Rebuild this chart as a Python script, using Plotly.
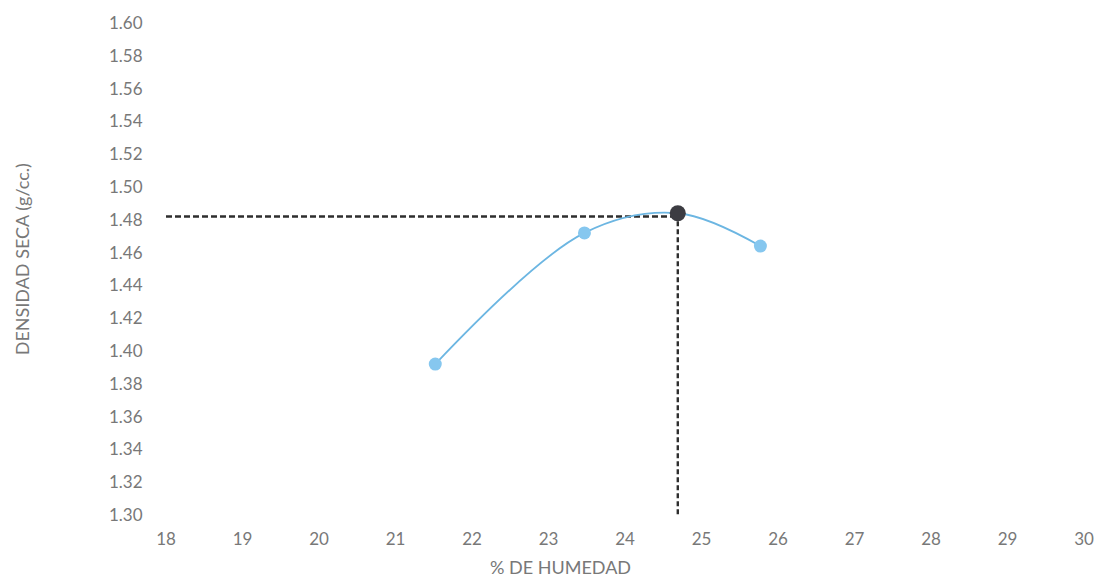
import plotly.graph_objects as go

# Compaction test results
humedad = [21.52, 23.47, 25.77]         # % de humedad
densidad = [1.392, 1.472, 1.464]        # densidad seca (g/cc.)

# Optimum point (maximum dry density / optimum moisture content)
hum_optima = 24.69
dens_maxima = 1.484
dens_ref = 1.482

x_ticks = list(range(18, 31))
y_ticks = [round(1.30 + 0.02 * i, 2) for i in range(16)]

font_family = "Lato, 'Open Sans', sans-serif"
text_color = "#787878"

# plot area in pixels (used for title placement)
W, H = 1106, 577
L, R, T, B = 166, 14, 21, 62
pw, ph = W - L - R, H - T - B

fig = go.Figure()

# Guide lines to the optimum
fig.add_trace(go.Scatter(
    x=[x_ticks[0], hum_optima], y=[dens_ref, dens_ref],
    mode="lines", line=dict(color="#2e2e2e", width=2.4, dash="6px,3px"),
    hoverinfo="skip", showlegend=False,
))
fig.add_trace(go.Scatter(
    x=[hum_optima, hum_optima], y=[dens_maxima, y_ticks[0]],
    mode="lines", line=dict(color="#2e2e2e", width=2.4, dash="5px,3px"),
    hoverinfo="skip", showlegend=False,
))

# Smoothed compaction curve (passes through the optimum)
curve = sorted(zip(humedad + [hum_optima], densidad + [dens_maxima]))
fig.add_trace(go.Scatter(
    x=[p[0] for p in curve], y=[p[1] for p in curve], mode="lines",
    line=dict(color="#6cb6e2", width=1.8, shape="spline", smoothing=1.0),
    hoverinfo="skip", showlegend=False,
))

# Measured points
fig.add_trace(go.Scatter(
    x=humedad, y=densidad, mode="markers",
    marker=dict(color="#86c7ef", size=13),
    showlegend=False,
))

# Optimum marker
fig.add_trace(go.Scatter(
    x=[hum_optima], y=[dens_maxima], mode="markers",
    marker=dict(color="#3c3c42", size=16),
    showlegend=False,
))

fig.update_layout(
    width=W, height=H,
    margin=dict(l=L, r=R, t=T, b=B),
    paper_bgcolor="white", plot_bgcolor="white",
    font=dict(family=font_family, size=17, color=text_color),
)
fig.update_xaxes(
    range=[18, 30], tickvals=x_ticks, ticktext=[str(v) for v in x_ticks],
    showgrid=False, zeroline=False, showline=False,
    ticks="outside", ticklen=9, tickcolor="rgba(0,0,0,0)",
)
fig.update_yaxes(
    range=[1.30, 1.60], tickvals=y_ticks, ticktext=[f"{v:.2f}" for v in y_ticks],
    showgrid=False, zeroline=False, showline=False,
    ticks="outside", ticklen=19, tickcolor="rgba(0,0,0,0)",
)

# Axis titles
fig.add_annotation(
    text="% DE HUMEDAD", xref="paper", yref="paper",
    x=(564 - L) / pw, y=-(567 - (H - B)) / ph,
    xanchor="center", yanchor="middle",
    showarrow=False, font=dict(size=18, color=text_color),
)
fig.add_annotation(
    text="DENSIDAD SECA (g/cc.)", xref="paper", yref="paper",
    x=-(L - 21) / pw, y=((H - B) - 258) / ph, textangle=-90,
    xanchor="center", yanchor="middle",
    showarrow=False, font=dict(size=18, color=text_color),
)

fig.write_html("out.html")
